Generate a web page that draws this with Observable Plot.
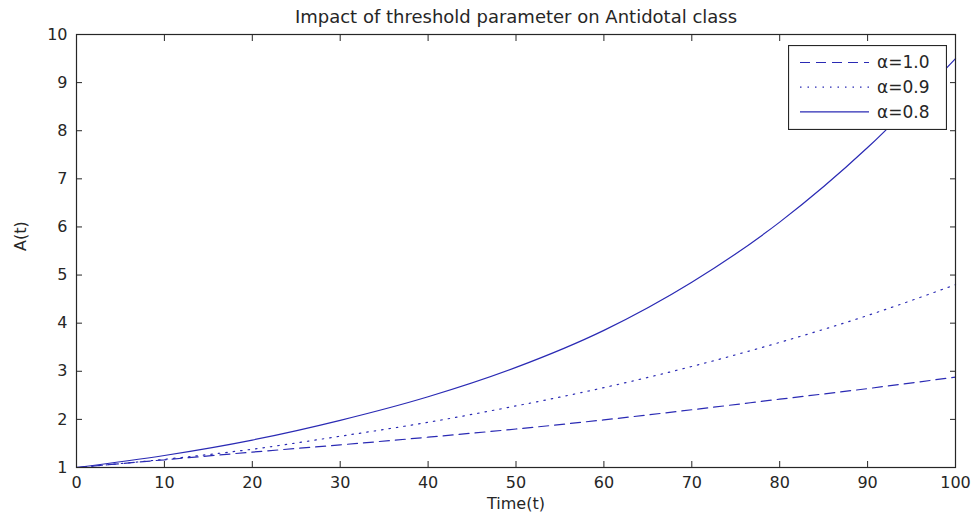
<!DOCTYPE html>
<html>
<head>
<meta charset="utf-8">
<script src="https://cdn.jsdelivr.net/npm/d3@7"></script>
<script src="https://cdn.jsdelivr.net/npm/@observablehq/plot@0.6"></script>
<style>
  html, body { margin: 0; padding: 0; background: #fff; }
  #wrap { position: relative; width: 978px; height: 519px; font-family: "DejaVu Sans", sans-serif; }
  #legend { position: absolute; left: 788px; top: 45px; }
</style>
</head>
<body>
<div id="wrap"></div>
<script>
const title = "Impact of threshold parameter on Antidotal class";
const xLabel = "Time(t)";
const yLabel = "A(t)";
const tValues = [0, 10, 20, 30, 40, 50, 60, 70, 80, 90, 100];
const alpha10 = [1, 1.16, 1.32, 1.47, 1.63, 1.80, 1.99, 2.20, 2.42, 2.64, 2.88];
const alpha09 = [1, 1.17, 1.38, 1.65, 1.94, 2.28, 2.66, 3.10, 3.60, 4.16, 4.80];
const alpha08 = [1, 1.25, 1.57, 1.98, 2.47, 3.08, 3.85, 4.85, 6.10, 7.65, 9.50];
const xTicks = [0, 10, 20, 30, 40, 50, 60, 70, 80, 90, 100];
const yTicks = [1, 2, 3, 4, 5, 6, 7, 8, 9, 10];
const seriesLabels = ["α=1.0", "α=0.9", "α=0.8"];
const seriesDash = ["10,6", "1.5,6", "none"];
const lineColor = "#2a2ab4";
const axisColor = "#262626";

const seriesValues = [alpha10, alpha09, alpha08];
const tables = seriesValues.map(vals => tValues.map((t, i) => ({t, A: vals[i]})));

const chart = Plot.plot({
  width: 978,
  height: 519,
  marginLeft: 76,
  marginRight: 23,
  marginTop: 34,
  marginBottom: 52,
  style: {fontFamily: "DejaVu Sans, sans-serif", fontSize: "16px", color: axisColor, background: "#fff"},
  x: {domain: [0, 100]},
  y: {domain: [1, 10]},
  marks: [
    ...tables.map((tbl, i) => Plot.line(tbl, {x: "t", y: "A", stroke: lineColor, strokeWidth: 1.2, strokeDasharray: seriesDash[i], curve: "monotone-x"})),
    Plot.frame({stroke: axisColor, strokeWidth: 1.2}),
    Plot.axisX({ticks: xTicks, tickSize: 0, tickPadding: 9, tickFormat: d => String(d), label: null, stroke: axisColor}),
    Plot.axisX({ticks: xTicks, anchor: "bottom", tickSize: -6, tickFormat: () => "", label: null, stroke: axisColor}),
    Plot.axisX({ticks: xTicks, anchor: "top", tickSize: -6, tickFormat: () => "", label: null, stroke: axisColor}),
    Plot.axisY({ticks: yTicks, tickSize: 0, tickPadding: 9, tickFormat: d => String(d), label: null, stroke: axisColor}),
    Plot.axisY({ticks: yTicks, anchor: "left", tickSize: -6, tickFormat: () => "", label: null, stroke: axisColor}),
    Plot.axisY({ticks: yTicks, anchor: "right", tickSize: -6, tickFormat: () => "", label: null, stroke: axisColor}),
    Plot.text([title], {frameAnchor: "top", lineAnchor: "middle", dy: -17, fontSize: 18, fill: axisColor}),
    Plot.text([xLabel], {frameAnchor: "bottom", lineAnchor: "middle", dy: 36, fontSize: 16, fill: axisColor}),
    Plot.text([yLabel], {frameAnchor: "left", dx: -56, rotate: -90, fontSize: 16, fill: axisColor})
  ]
});

const wrap = document.getElementById("wrap");
wrap.appendChild(chart);

// Legend (overlay box, like MATLAB's legend)
const lw = 158, lh = 84;
const legend = d3.create("svg").attr("id", "legend").attr("width", lw + 1).attr("height", lh + 1);
legend.append("rect").attr("x", 0.5).attr("y", 0.5).attr("width", lw).attr("height", lh)
  .attr("fill", "#fff").attr("stroke", axisColor).attr("stroke-width", 1.2);
seriesLabels.forEach((lab, i) => {
  const cy = 17.5 + i * 24.7;
  legend.append("line").attr("x1", 12).attr("x2", 81).attr("y1", cy).attr("y2", cy)
    .attr("stroke", lineColor).attr("stroke-width", 1.2).attr("stroke-dasharray", seriesDash[i]);
  legend.append("text").attr("x", 89).attr("y", cy).attr("dy", "0.35em")
    .attr("font-family", "DejaVu Sans, sans-serif").attr("font-size", 17).attr("fill", axisColor).text(lab);
});
wrap.appendChild(legend.node());
</script>
</body>
</html>
